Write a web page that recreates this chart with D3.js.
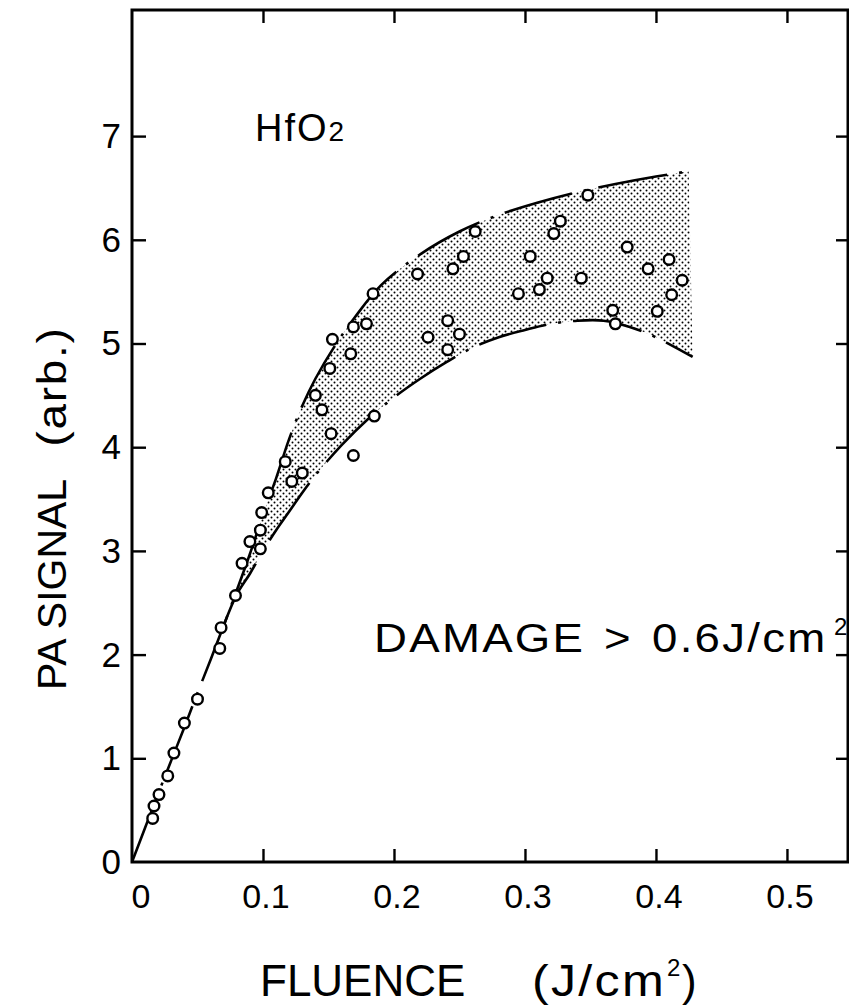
<!DOCTYPE html>
<html>
<head>
<meta charset="utf-8">
<script src="https://cdn.jsdelivr.net/npm/d3@7"></script>
<style>
  html, body { margin: 0; padding: 0; background: #fff; }
  svg { display: block; }
  text { font-family: "Liberation Sans", Arial, Helvetica, sans-serif; fill: #000; }
</style>
</head>
<body>
<svg id="chart" width="849" height="1008"></svg>
<script>
// Measured photoacoustic signal versus laser fluence (HfO2 film)
const fluence = [
  0.0158, 0.0168, 0.0206, 0.0273, 0.032, 0.040, 0.050, 0.067, 0.068, 0.079, 0.084, 0.090, 0.098, 0.098, 0.099,
  0.104, 0.122, 0.130, 0.117, 0.152, 0.169, 0.145, 0.140, 0.151, 0.167, 0.153, 0.169, 0.179, 0.184, 0.185,
  0.218, 0.226, 0.241, 0.250, 0.241, 0.245, 0.253, 0.262,
  0.348, 0.327, 0.322, 0.304, 0.317, 0.311, 0.295, 0.343, 0.378, 0.394, 0.410, 0.420, 0.412, 0.401, 0.367, 0.369
];
const signal = [
  0.42, 0.54, 0.65, 0.83, 1.05, 1.34, 1.57, 2.06, 2.26, 2.57, 2.88, 3.09, 3.02, 3.20, 3.37,
  3.56, 3.67, 3.75, 3.86, 4.13, 3.92, 4.36, 4.50, 4.76, 4.90, 5.04, 5.16, 5.19, 5.48, 4.30,
  5.67, 5.06, 5.22, 5.09, 4.94, 5.72, 5.84, 6.08,
  6.43, 6.18, 6.06, 5.84, 5.63, 5.52, 5.48, 5.63, 5.93, 5.72, 5.81, 5.61, 5.47, 5.31, 5.32, 5.19
];

// Upper and lower envelope of the scatter (shared trunk near the origin)
const upperFluence = [0, 0.01, 0.02, 0.03, 0.04, 0.05, 0.06, 0.07, 0.08, 0.09, 0.10, 0.11, 0.12, 0.13, 0.14,
  0.155, 0.17, 0.19, 0.22, 0.25, 0.28, 0.31, 0.34, 0.37, 0.40, 0.425];
const upperSignal = [0, 0.33, 0.66, 0.98, 1.30, 1.63, 1.95, 2.28, 2.62, 2.97, 3.35, 3.70, 4.08, 4.40, 4.66,
  4.98, 5.25, 5.56, 5.86, 6.08, 6.24, 6.36, 6.46, 6.54, 6.61, 6.66];
const lowerFluence = [0, 0.01, 0.02, 0.03, 0.04, 0.05, 0.06, 0.07, 0.08, 0.09, 0.10, 0.11, 0.12, 0.13, 0.14,
  0.16, 0.18, 0.20, 0.22, 0.24, 0.26, 0.28, 0.30, 0.32, 0.34, 0.36, 0.38, 0.40, 0.428];
const lowerSignal = [0, 0.33, 0.66, 0.98, 1.30, 1.63, 1.95, 2.28, 2.58, 2.78, 3.00, 3.20, 3.38, 3.56, 3.73,
  4.02, 4.27, 4.48, 4.66, 4.82, 4.96, 5.06, 5.13, 5.19, 5.22, 5.22, 5.16, 5.06, 4.87];

const xTicks = [0, 0.1, 0.2, 0.3, 0.4, 0.5];
const xTickLabels = ["0", "0.1", "0.2", "0.3", "0.4", "0.5"];
const yTicks = [0, 1, 2, 3, 4, 5, 6, 7];
const yTickLabels = ["0", "1", "2", "3", "4", "5", "6", "7"];

const svg = d3.select("#chart");
const plotLeft = 132, plotRight = 848, plotTop = 10, plotBottom = 862;

const x = d3.scaleLinear().domain([0, 0.5466]).range([plotLeft, plotRight]);
const y = d3.scaleLinear().domain([0, 8.216]).range([plotBottom, plotTop]);

// stipple pattern for the shaded band
const defs = svg.append("defs");
const pat = defs.append("pattern")
  .attr("id", "stipple").attr("patternUnits", "userSpaceOnUse")
  .attr("width", 6).attr("height", 6);
pat.append("circle").attr("cx", 1.5).attr("cy", 1.5).attr("r", 1.0).attr("fill", "#000");
pat.append("circle").attr("cx", 4.5).attr("cy", 4.5).attr("r", 1.0).attr("fill", "#000");

const upperPts = upperFluence.map((f, i) => [x(f), y(upperSignal[i])]);
const lowerPts = lowerFluence.map((f, i) => [x(f), y(lowerSignal[i])]);
const curve = d3.line().curve(d3.curveCatmullRom.alpha(0.5));

// shaded band between the envelopes
const upperPath = curve(upperPts);
const lowerRevPath = curve(lowerPts.slice().reverse()).replace(/^M/, "L");
svg.append("path")
  .attr("d", upperPath + lowerRevPath + "Z")
  .attr("fill", "url(#stipple)")
  .attr("stroke", "none");

// envelope curves
svg.append("path")
  .attr("d", upperPath)
  .attr("fill", "none").attr("stroke", "#000").attr("stroke-width", 2.6)
  .attr("stroke-dasharray", "70,12,3,12");
svg.append("path")
  .attr("d", curve(lowerPts.filter(p => p[0] >= x(0.07))))
  .attr("fill", "none").attr("stroke", "#000").attr("stroke-width", 2.6)
  .attr("stroke-dasharray", "70,12,3,12");

// frame
svg.append("rect")
  .attr("x", plotLeft).attr("y", plotTop)
  .attr("width", plotRight - plotLeft).attr("height", plotBottom - plotTop)
  .attr("fill", "none").attr("stroke", "#000").attr("stroke-width", 3);

// inward ticks on all four sides
function styleAxis(g) {
  g.select(".domain").remove();
  g.selectAll(".tick line").attr("stroke", "#000").attr("stroke-width", 2.4);
  g.selectAll(".tick text").remove();
}
svg.append("g").attr("transform", `translate(0,${plotBottom})`)
  .call(d3.axisBottom(x).tickValues(xTicks.slice(1)).tickSize(-13)).call(styleAxis);
svg.append("g").attr("transform", `translate(0,${plotTop})`)
  .call(d3.axisTop(x).tickValues(xTicks.slice(1)).tickSize(-13)).call(styleAxis);
svg.append("g").attr("transform", `translate(${plotLeft},0)`)
  .call(d3.axisLeft(y).tickValues(yTicks.slice(1)).tickSize(-14)).call(styleAxis);
svg.append("g").attr("transform", `translate(${plotRight},0)`)
  .call(d3.axisRight(y).tickValues(yTicks.slice(1)).tickSize(-12)).call(styleAxis);

// tick labels
svg.append("g").selectAll("text").data(xTicks).join("text")
  .attr("x", (d, i) => x(d) + (i === 0 ? 9 : 3))
  .attr("y", 908)
  .attr("text-anchor", "middle")
  .attr("font-size", 34)
  .text((d, i) => xTickLabels[i]);
svg.append("g").selectAll("text").data(yTicks).join("text")
  .attr("x", 121)
  .attr("y", d => y(d) + 12)
  .attr("text-anchor", "end")
  .attr("font-size", 35)
  .text((d, i) => yTickLabels[i]);

// data points
svg.append("g").selectAll("circle").data(fluence).join("circle")
  .attr("cx", d => x(d))
  .attr("cy", (d, i) => y(signal[i]))
  .attr("r", 5.3)
  .attr("fill", "#fff").attr("stroke", "#000").attr("stroke-width", 2.4);

// plotter-style lettering: slightly widened glyphs with a little tracking
function wideText(x0, y0, size, str, sx = 1.14, ls = 2) {
  return svg.append("text")
    .attr("transform", `translate(${x0},${y0}) scale(${sx},1)`)
    .attr("font-size", size)
    .attr("letter-spacing", ls)
    .text(str);
}

// x axis title
svg.append("text").attr("x", 260).attr("y", 996).attr("font-size", 44).text("FLUENCE");
wideText(532, 996, 44, "(J/cm");
svg.append("text").attr("x", 667).attr("y", 976).attr("font-size", 24).text("2");
svg.append("text").attr("x", 682).attr("y", 996).attr("font-size", 44).text(")");

// y axis title
const yTitle = svg.append("g").attr("transform", "translate(66,480) rotate(-90)");
yTitle.append("text").attr("x", -210).attr("y", 0).attr("font-size", 41).text("PA SIGNAL");
yTitle.append("text").attr("x", 30).attr("y", 0).attr("font-size", 41)
  .attr("transform", "scale(1.12,1)").attr("letter-spacing", 1.5).text("(arb.)");

// annotations
const mat = svg.append("text").attr("x", 255).attr("y", 141).attr("font-size", 38).attr("letter-spacing", 2);
mat.append("tspan").text("HfO");
mat.append("tspan").attr("font-size", 28).text("2");

wideText(374, 652, 40, "DAMAGE");
wideText(604, 652, 40, ">", 1.14, 0);
wideText(652, 652, 40, "0.6J/cm");
svg.append("text").attr("x", 834).attr("y", 635).attr("font-size", 24).text("2");
</script>
</body>
</html>
